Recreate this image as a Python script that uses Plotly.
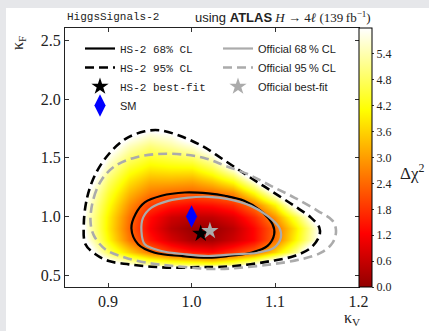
import plotly.graph_objects as go

# ---------------- data ----------------
kv_grid = [0.85, 0.875, 0.9, 0.925, 0.95, 0.975, 1.0, 1.025, 1.05, 1.075, 1.1, 1.125, 1.15, 1.175, 1.2]
kf_grid = [0.4, 0.5, 0.6, 0.7, 0.8, 0.9, 1.0, 1.1, 1.2, 1.3, 1.4, 1.5, 1.6, 1.7, 1.8, 1.9]
dchi2_grid = [
    [14, 13, 12, 12, 12, 12, 13, 13, 14, 14, 15, 16, 17, 18, 19],
    [11, 10, 9.5, 9, 9, 9.5, 10, 10.5, 11, 12, 13, 14, 15, 16, 17],
    [9.5, 7.8, 6.5, 5.8, 5.2, 4.8, 4.6, 4.4, 4.9, 5.8, 7.2, 9, 11, 13, 15],
    [9, 6.6, 4.8, 3.6, 2.6, 1.9, 1.5, 1.3, 1.8, 2.4, 3.6, 5.2, 7.5, 10, 12.5],
    [8.5, 5.9, 4.1, 2.6, 1.5, 0.8, 0.3, 0.25, 0.7, 1.3, 2.5, 4.1, 5.9, 8.3, 11],
    [8.2, 5.7, 3.9, 2.4, 1.2, 0.45, 0.1, 0.1, 0.5, 1.3, 2.4, 3.9, 5.8, 8.1, 10.7],
    [8.2, 5.65, 3.95, 2.5, 1.35, 0.7, 0.5, 0.55, 0.9, 1.7, 2.9, 4.6, 6.6, 9, 11.5],
    [8.4, 5.8, 4.2, 2.85, 1.9, 1.5, 1.3, 1.4, 1.7, 2.6, 4.0, 6.4, 8.5, 11, 13.5],
    [8.7, 6.1, 4.5, 3.3, 2.6, 2.4, 2.3, 2.45, 2.8, 4.1, 6.0, 8.5, 11, 13, 15],
    [9.1, 6.5, 4.9, 3.8, 3.2, 3.2, 3.1, 3.5, 4.2, 5.8, 8, 10.5, 13, 15, 17],
    [9.6, 7.0, 5.35, 4.3, 3.8, 3.9, 3.9, 4.5, 5.6, 7.6, 10, 12.5, 15, 17, 19],
    [10.2, 7.6, 5.85, 4.9, 4.4, 4.6, 4.8, 5.5, 7.2, 9.5, 12, 14.5, 17, 19, 21],
    [10.8, 8.3, 6.4, 5.5, 5.0, 5.3, 5.7, 6.6, 8.8, 11.5, 14, 16.5, 19, 21, 23],
    [11.5, 9, 7.0, 6.2, 5.75, 5.95, 6.7, 7.8, 10.5, 13.5, 16, 18.5, 21, 23, 25],
    [12.2, 9.8, 7.7, 7.0, 6.6, 6.8, 7.7, 9, 12, 15, 18, 20.5, 23, 25, 27],
    [13, 10.6, 8.5, 7.8, 7.5, 7.7, 8.7, 10.3, 13.5, 17, 20, 22.5, 25, 27, 29],
]

hs2_68_kv = [0.928, 0.933, 0.944, 0.964, 0.992, 1.020, 1.040, 1.063, 1.083, 1.097, 1.099, 1.091, 1.071, 1.044, 1.020, 0.988, 0.956, 0.936, 0.928]
hs2_68_kf = [0.90, 1.021, 1.120, 1.177, 1.205, 1.197, 1.177, 1.134, 1.049, 0.935, 0.850, 0.750, 0.692, 0.664, 0.650, 0.664, 0.692, 0.764, 0.90]

hs2_95_kv = [0.871, 0.875, 0.885, 0.901, 0.921, 0.944, 0.962, 0.985, 1.012, 1.040, 1.067, 1.095, 1.123, 1.143, 1.153, 1.153, 1.143, 1.123, 1.095, 1.063, 1.032, 1.012, 0.980, 0.952, 0.925, 0.901, 0.885, 0.873, 0.871]
hs2_95_kf = [0.935, 1.162, 1.362, 1.533, 1.662, 1.726, 1.735, 1.690, 1.604, 1.476, 1.348, 1.220, 1.091, 0.991, 0.906, 0.835, 0.735, 0.664, 0.621, 0.587, 0.570, 0.570, 0.564, 0.573, 0.593, 0.621, 0.679, 0.764, 0.935]

off_68_kv = [0.940, 0.942, 0.952, 0.972, 0.996, 1.020, 1.044, 1.071, 1.091, 1.105, 1.107, 1.099, 1.079, 1.052, 1.020, 0.992, 0.964, 0.944, 0.940]
off_68_kf = [0.878, 0.991, 1.077, 1.134, 1.162, 1.168, 1.149, 1.091, 1.006, 0.906, 0.821, 0.735, 0.692, 0.679, 0.664, 0.679, 0.707, 0.764, 0.878]

off_95_kv = [0.879, 0.883, 0.893, 0.909, 0.933, 0.960, 0.992, 1.018, 1.040, 1.067, 1.095, 1.123, 1.151, 1.169, 1.173, 1.169, 1.155, 1.131, 1.095, 1.055, 1.024, 0.980, 0.952, 0.921, 0.897, 0.883, 0.879]
off_95_kf = [0.963, 1.162, 1.320, 1.433, 1.504, 1.533, 1.527, 1.493, 1.433, 1.362, 1.262, 1.162, 1.049, 0.963, 0.878, 0.778, 0.692, 0.636, 0.593, 0.562, 0.553, 0.578, 0.600, 0.650, 0.720, 0.840, 0.963]

hs2_best = (1.011, 0.855)
off_best = (1.022, 0.878)
sm_point = (1.0, 1.0)

cbar_ticks = [0.0, 0.6, 1.2, 1.8, 2.4, 3.0, 3.6, 4.2, 4.8, 5.4]
x_ticks = [0.9, 1.0, 1.1, 1.2]
y_ticks = [0.5, 1.0, 1.5, 2.0, 2.5]

# ---------------- styling ----------------
SERIF = "Liberation Serif"
MONO = "Liberation Mono"
SANS = "Liberation Sans"
GRAY = "#ababab"
FRAME_BG = "#e6e7ea"

hot_trunc = [[0.0, "rgb(145,0,0)"], [0.2063, "rgb(255,0,0)"],
             [0.6825, "rgb(255,255,0)"], [1.0, "rgb(255,255,255)"]]


def mono(t):
    return '<span style="font-family:%s">%s</span>' % (MONO, t)


fig = go.Figure()

fig.add_trace(go.Heatmap(
    x=kv_grid, y=kf_grid, z=dchi2_grid, zmin=0, zmax=6, zsmooth="best",
    colorscale=hot_trunc, showlegend=False, hoverinfo="skip",
    colorbar=dict(
        x=1.0, xanchor="left", xpad=0, y=0.5, yanchor="middle", len=1.0,
        lenmode="fraction", ypad=0, thickness=13, outlinecolor="black",
        outlinewidth=1, ticks="outside", ticklen=2, tickcolor="#333",
        tickvals=cbar_ticks, ticktext=["%.1f" % v for v in cbar_ticks],
        tickfont=dict(family=SERIF, size=12, color="#222"),
    ),
))

fig.add_trace(go.Scatter(x=hs2_68_kv, y=hs2_68_kf, mode="lines", name=mono("HS-2 68% CL"),
                         legend="legend",
                         line=dict(color="black", width=2.2, shape="spline"), hoverinfo="skip"))
fig.add_trace(go.Scatter(x=off_68_kv, y=off_68_kf, mode="lines", name="Official 68\u2009% CL",
                         legend="legend2",
                         line=dict(color=GRAY, width=2.2, shape="spline"), hoverinfo="skip"))
fig.add_trace(go.Scatter(x=hs2_95_kv, y=hs2_95_kf, mode="lines", name=mono("HS-2 95% CL"),
                         legend="legend",
                         line=dict(color="black", width=2.6, dash="9px,5px", shape="spline"), hoverinfo="skip"))
fig.add_trace(go.Scatter(x=off_95_kv, y=off_95_kf, mode="lines", name="Official 95\u2009% CL",
                         legend="legend2",
                         line=dict(color=GRAY, width=2.6, dash="9px,5px", shape="spline"), hoverinfo="skip"))
fig.add_trace(go.Scatter(x=[hs2_best[0]], y=[hs2_best[1]], mode="markers", name=mono("HS-2 best-fit"),
                         legend="legend",
                         marker=dict(symbol="star", size=13, color="black", line=dict(width=0))))
fig.add_trace(go.Scatter(x=[off_best[0]], y=[off_best[1]], mode="markers", name="Official best-fit",
                         legend="legend2",
                         marker=dict(symbol="star", size=13, color=GRAY, line=dict(width=0))))
fig.add_trace(go.Scatter(x=[sm_point[0]], y=[sm_point[1]], mode="markers", name="SM",
                         legend="legend",
                         marker=dict(symbol="diamond-tall", size=16, color="#0000ff", line=dict(width=0))))

axis_common = dict(showline=True, mirror="allticks", linecolor="#222", linewidth=1,
                   ticks="inside", ticklen=4, tickcolor="#333", showgrid=False, zeroline=False,
                   tickfont=dict(family=SERIF, size=16, color="#222"))

fig.update_xaxes(range=[0.8485, 1.2005], tickvals=x_ticks, ticktext=["%.1f" % v for v in x_ticks],
                 **axis_common)
fig.update_yaxes(range=[0.4, 2.606], tickvals=y_ticks, ticktext=["%.1f" % v for v in y_ticks],
                 **axis_common)

# paper coordinates: plot area spans px x 65..359, y 28..287
PW, PH, L, T = 294.0, 258.7, 65.0, 28.0


def px(x):
    return (x - L) / PW


def py(y):
    return 1 - (y - T) / PH


annotations = [
    dict(text="HiggsSignals-2", x=px(65), y=py(17), xanchor="left", yanchor="middle",
         font=dict(family=MONO, size=11, color="#222")),
    dict(text=('<span style="font-family:%s">using </span>'
               '<span style="font-family:%s"><b>ATLAS</b></span> '
               '<i>H</i> \u2192 4<i>\u2113</i> (139\u2009fb<sup>\u22121</sup>)') % (SANS, SANS),
         x=px(373), y=py(17), xanchor="right", yanchor="middle",
         font=dict(family=SERIF, size=13, color="#222")),
    dict(text="\u03ba<sub>F</sub>", x=px(18), y=py(43), xanchor="center", yanchor="middle",
         textangle=-90, font=dict(family=SERIF, size=16, color="#222")),
    dict(text="\u03ba<sub>V</sub>", x=px(352), y=py(318), xanchor="center", yanchor="middle",
         font=dict(family=SERIF, size=16, color="#222")),
    dict(text="\u0394\u03c7<sup>2</sup>", x=px(412), y=py(172), xanchor="center", yanchor="middle",
         font=dict(family=SERIF, size=17, color="#222")),
]
for a in annotations:
    a.update(xref="paper", yref="paper", showarrow=False)

legend_common = dict(orientation="v", xanchor="left", yanchor="top", itemwidth=30,
                     bgcolor="rgba(0,0,0,0)", borderwidth=0, traceorder="normal",
                     font=dict(family=SANS, size=11, color="#222"), tracegroupgap=0)

fig.update_layout(
    width=429, height=331,
    margin=dict(l=65, r=70, t=28, b=44, pad=0),
    paper_bgcolor=FRAME_BG, plot_bgcolor="white",
    annotations=annotations,
    shapes=[dict(type="rect", xref="paper", yref="paper", x0=px(6), x1=px(440),
                 y0=py(340), y1=py(8), fillcolor="white", line=dict(width=0), layer="below")],
    showlegend=True,
    legend=dict(x=px(80), y=py(34), **legend_common),
    legend2=dict(x=px(218), y=py(34), **legend_common),
)

fig.write_html("out.html",
               config={"displayModeBar": False},
               post_script="document.body.style.margin='0px';"
                           "document.body.style.background='%s';" % FRAME_BG)
